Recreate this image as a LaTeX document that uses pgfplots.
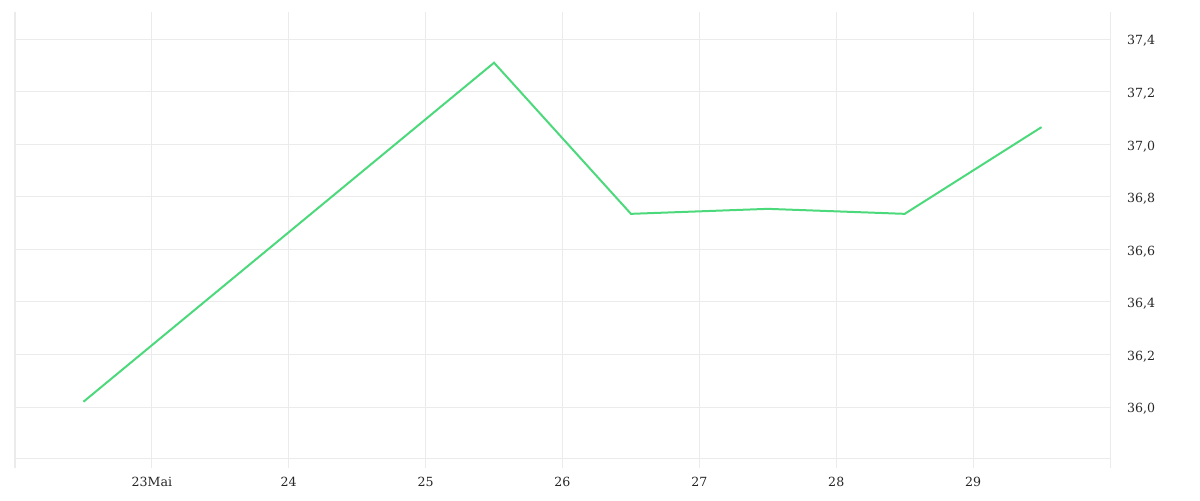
\documentclass[border=0pt]{standalone}
\usepackage{pgfplots}
\pgfplotsset{compat=1.18}
\usepackage{fontspec}
\setmainfont{DejaVu Serif}
\definecolor{gridgray}{HTML}{EBEBEB}
\definecolor{linegreen}{HTML}{4CD97B}
\begin{document}
\begin{tikzpicture}
\begin{axis}[
    name=ax,
    scale only axis,
    width=547.5pt, height=223pt,
    xmin=22, xmax=30,
    ymin=35.806, ymax=37.503,
    axis line style={draw=none},
    xtick={22,23,24,25,26,27,28,29,30},
    xticklabels={,23Mai,24,25,26,27,28,29,},
    xtick pos=bottom,
    ytick={36.0,36.2,36.4,36.6,36.8,37.0,37.2,37.4},
    extra y ticks={35.806},
    extra y tick labels={},
    extra y tick style={grid=major, major tick length=0pt},
    yticklabel pos=right,
    grid=major,
    major grid style={gridgray, line width=0.5pt},
    x tick style={gridgray, line width=0.5pt},
    y tick style={draw=none},
    tick align=outside,
    major tick length=5pt,
    ticklabel style={font=\fontsize{6.3}{7}\selectfont, text=black!85},
    xticklabel style={yshift=-1pt},
    yticklabel style={xshift=0pt, yshift=-1pt},
    /pgf/number format/.cd, fixed, fixed zerofill, precision=1, use comma,
    /pgf/number format/assume math mode=true,
]
\addplot[linegreen, line width=1pt, mark=none] coordinates {
    (22.5,36.02) (25.5,37.31) (26.5,36.735) (27.5,36.754) (28.5,36.735) (29.5,37.065)
};
\end{axis}
\pgfresetboundingbox
\path[use as bounding box] ([shift={(-7.5pt,-21pt)}]ax.south west) rectangle ([shift={(45pt,6pt)}]ax.north east);
\end{tikzpicture}
\end{document}
